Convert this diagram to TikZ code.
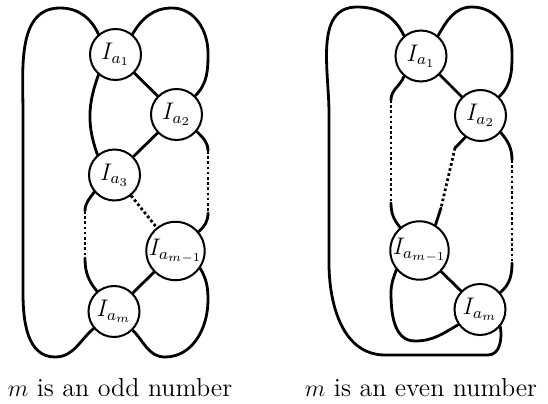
\documentclass[tikz,border=0pt]{standalone}
\usepackage{amsmath}
\usepackage{tikz}
\begin{document}
\begin{tikzpicture}[
    x=0.5pt,y=0.5pt,font=\large,
    cell/.style={draw,circle,line width=1pt,minimum size=25.5pt,inner sep=0pt},
    wire/.style={line width=1.4pt,line cap=round},
    elided/.style={line width=1.4pt,dash pattern=on 1.3pt off 1.3pt},
    caption/.style={font=\fontsize{13}{15}\selectfont}
  ]
    \useasboundingbox (0,0) rectangle (548,403);

    \node[cell] (a1) at (115.5,348.5) {$I_{a_1}$};
    \node[cell] (a2) at (176.5,288.5) {$I_{a_2}$};
    \node[cell] (a3) at (114.5,228) {$I_{a_3}$};
    \node[cell] (am1) at (175.5,152) {$I_{a_{m-1}}$};
    \node[cell] (am) at (114,91.5) {$I_{a_m}$};

    \coordinate (r1) at (208,252);
    \coordinate (r2) at (208,190);
    \coordinate (l1) at (85,192);
    \coordinate (l2) at (85,145);

    \draw[wire] (a1.130) to[out=115,in=0] (60,395) to[out=180,in=90] (23,290)
      -- (23,110) to[out=-90,in=180] (55,46) to[out=0,in=-140] (am.-140);
    \draw[wire] (a1.50) to[out=60,in=180] (172,395) to[out=0,in=90] (208,350)
      to[out=-90,in=45] (a2.45);
    \draw[wire] (a1) -- (a2);
    \draw[wire] (a1.-130) to[out=-110,in=110] (a3.130);
    \draw[wire] (a2) -- (a3);
    \draw[wire] (a2.-40) to[out=-45,in=90] (r1);
    \draw[elided] (r1) -- (r2);
    \draw[wire] (r2) to[out=-90,in=40] (am1.40);
    \draw[wire] (a3.-140) to[out=-125,in=90] (l1);
    \draw[elided] (l1) -- (l2);
    \draw[wire] (l2) to[out=-90,in=130] (am.130);
    \draw[elided] (a3) -- (am1);
    \draw[wire] (am1) -- (am);
    \draw[wire] (am1.-35) to[out=-60,in=90] (208,103) to[out=-90,in=0] (165,46)
      to[out=180,in=-45] (am.-45);

    \node[cell] (b1) at (421,347) {$I_{a_1}$};
    \node[cell] (b2) at (480.5,287.5) {$I_{a_2}$};
    \node[cell] (bm1) at (419.5,152.5) {$I_{a_{m-1}}$};
    \node[cell] (bm) at (480,93.5) {$I_{a_m}$};

    \coordinate (s1) at (512,243);
    \coordinate (s2) at (512,140);
    \coordinate (t1) at (391,303);
    \coordinate (t2) at (391,200);
    \coordinate (m1) at (455,255);
    \coordinate (m2) at (441,195);

    \draw[wire] (b1.130) to[out=115,in=0] (357,396) to[out=180,in=90] (329,290)
      -- (329,140) to[out=-90,in=180] (385,48) -- (488,48)
      to[out=0,in=-80] (bm.-40);
    \draw[wire] (b1.50) to[out=60,in=180] (472,396) to[out=0,in=90] (512,350)
      to[out=-90,in=45] (b2.45);
    \draw[wire] (b1) -- (b2);
    \draw[wire] (b1.-130) to[out=-110,in=90] (t1);
    \draw[elided] (t1) -- (t2);
    \draw[wire] (t2) to[out=-90,in=130] (bm1.130);
    \draw[wire] (b2.-125) -- (m1);
    \draw[elided] (m1) -- (m2);
    \draw[wire] (m2) -- (bm1.58);
    \draw[wire] (b2.-40) to[out=-50,in=90] (s1);
    \draw[elided] (s1) -- (s2);
    \draw[wire] (s2) to[out=-90,in=40] (bm.40);
    \draw[wire] (bm1) -- (bm);
    \draw[wire] (bm1.-140) to[out=-110,in=90] (391,110) to[out=-90,in=180] (415,62)
      to[out=0,in=-150] (bm.-145);

    \node[caption,anchor=base] (odd) at (120,6) {$m$ is an odd number};
    \node[caption,anchor=base] (even) at (421,6) {$m$ is an even number};
  \end{tikzpicture}
\end{document}
